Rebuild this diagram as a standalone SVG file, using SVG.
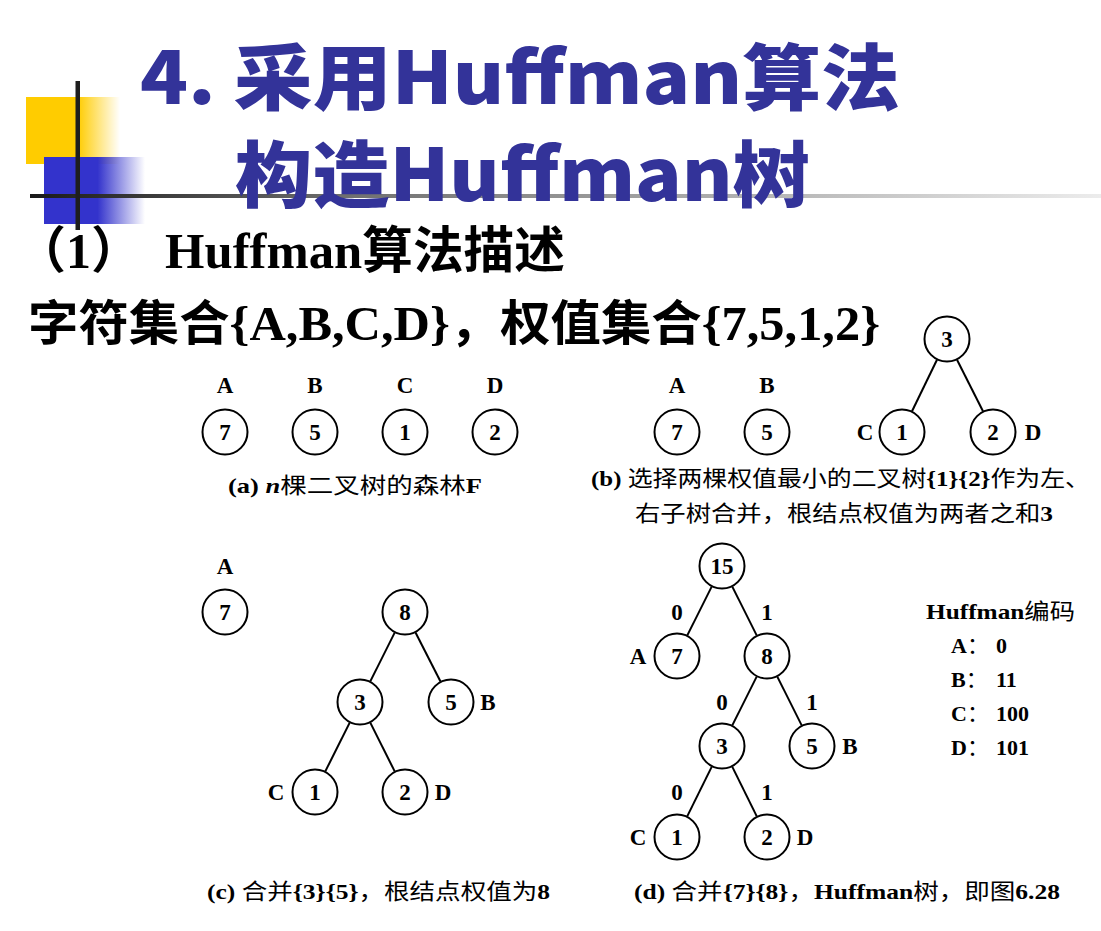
<svg xmlns="http://www.w3.org/2000/svg" width="1101" height="931" viewBox="0 0 1101 931">
<style>
.title{font-family:"Noto Sans CJK SC","Noto Sans",sans-serif;font-weight:900;fill:#333399;}
.big{font-family:"Liberation Serif","Noto Sans CJK SC",serif;font-weight:700;fill:#000;}
.cap{font-family:"Liberation Serif","Noto Sans CJK SC",serif;font-weight:700;font-size:22px;fill:#000;}
.cj{font-family:"Noto Sans CJK SC",sans-serif;font-weight:400;}
.lbl{font-family:"Liberation Serif",serif;font-weight:700;font-size:22px;fill:#000;}
.num{font-family:"Liberation Serif",serif;font-weight:700;font-size:23px;fill:#000;text-anchor:middle;}
.node circle{fill:#fff;stroke:#000;stroke-width:2;}
.edges line{stroke:#000;stroke-width:2;}
</style>
<defs>
<linearGradient id="gy" x1="0" y1="0" x2="1" y2="0">
<stop offset="0" stop-color="#FFCC00"/><stop offset="0.55" stop-color="#FFCC00"/><stop offset="1" stop-color="#FFCC00" stop-opacity="0"/>
</linearGradient>
<linearGradient id="gb" x1="0" y1="0" x2="1" y2="0">
<stop offset="0" stop-color="#3333CC"/><stop offset="0.53" stop-color="#3333CC"/><stop offset="1" stop-color="#3333CC" stop-opacity="0"/>
</linearGradient>
<linearGradient id="gl" gradientUnits="userSpaceOnUse" x1="30" y1="0" x2="1101" y2="0">
<stop offset="0" stop-color="#1a1a1a"/><stop offset="0.3" stop-color="#707070"/><stop offset="1" stop-color="#ececec"/>
</linearGradient>
</defs>
<rect width="1101" height="931" fill="#fff"/>
<g id="decor">
<rect x="26" y="97" width="94" height="67" fill="url(#gy)"/>
<rect x="44" y="157" width="101" height="67" fill="url(#gb)"/>
<rect x="30" y="194" width="1071" height="4" fill="url(#gl)"/>
<rect x="75.5" y="81" width="4.5" height="149" fill="#1e1e1e"/>
</g>
<g id="title">
<text class="title" x="140" y="104" font-size="72" textLength="760" lengthAdjust="spacingAndGlyphs">4. 采用Huffman算法</text>
<text class="title" x="235" y="201" font-size="72" textLength="575" lengthAdjust="spacingAndGlyphs">构造Huffman树</text>
</g>
<g id="heading">
<text class="big" x="16" y="268" font-size="50">（1）</text>
<text class="big" x="165" y="268" font-size="50" textLength="400" lengthAdjust="spacingAndGlyphs">Huffman算法描述</text>
<text class="big" x="28" y="340" font-size="48" textLength="852" lengthAdjust="spacingAndGlyphs">字符集合{A,B,C,D}，权值集合{7,5,1,2}</text>
</g>
<g class="edges" id="connectors">
<line x1="937" y1="359.7" x2="912" y2="411.3"/>
<line x1="957" y1="359.7" x2="983" y2="411.3"/>
<line x1="394.7" y1="632.6" x2="370.3" y2="681.4"/>
<line x1="415.5" y1="632.5" x2="440.5" y2="681.5"/>
<line x1="349.7" y1="722.6" x2="325.3" y2="771.4"/>
<line x1="370.3" y1="722.6" x2="394.7" y2="771.4"/>
<line x1="711.7" y1="586.6" x2="687.3" y2="635.4"/>
<line x1="732.3" y1="586.6" x2="756.7" y2="635.4"/>
<line x1="756.7" y1="676.6" x2="732.3" y2="725.4"/>
<line x1="777.3" y1="676.6" x2="801.7" y2="725.4"/>
<line x1="711.8" y1="766.6" x2="687.2" y2="816.4"/>
<line x1="732.2" y1="766.6" x2="756.8" y2="816.4"/>
</g>
<!-- (a) -->
<g id="a-A" class="node"><text class="num" x="225" y="393">A</text><circle cx="225" cy="432" r="22.5"/><text class="num" x="225" y="440">7</text></g>
<g id="a-B" class="node"><text class="num" x="315" y="393">B</text><circle cx="315" cy="432" r="22.5"/><text class="num" x="315" y="440">5</text></g>
<g id="a-C" class="node"><text class="num" x="405" y="393">C</text><circle cx="405" cy="432" r="22.5"/><text class="num" x="405" y="440">1</text></g>
<g id="a-D" class="node"><text class="num" x="495" y="393">D</text><circle cx="495" cy="432" r="22.5"/><text class="num" x="495" y="440">2</text></g>
<text class="cap" x="228" y="493" textLength="254" lengthAdjust="spacingAndGlyphs">(a) <tspan font-style="italic">n</tspan><tspan class="cj">棵二叉树的森林</tspan>F</text>
<!-- (b) -->
<g id="b-A" class="node"><text class="num" x="677" y="393">A</text><circle cx="677" cy="432" r="22.5"/><text class="num" x="677" y="440">7</text></g>
<g id="b-B" class="node"><text class="num" x="767" y="393">B</text><circle cx="767" cy="432" r="22.5"/><text class="num" x="767" y="440">5</text></g>
<g id="b-3" class="node"><circle cx="947" cy="339" r="22.5"/><text class="num" x="947" y="347">3</text></g>
<g id="b-C" class="node"><circle cx="902" cy="432" r="22.5"/><text class="num" x="902" y="440">1</text><text class="num" x="865" y="440">C</text></g>
<g id="b-D" class="node"><circle cx="993" cy="432" r="22.5"/><text class="num" x="993" y="440">2</text><text class="num" x="1033" y="440">D</text></g>
<text class="cap" x="591" y="486" textLength="499" lengthAdjust="spacingAndGlyphs">(b) <tspan class="cj">选择两棵权值最小的二叉树</tspan>{1}{2}<tspan class="cj">作为左、</tspan></text>
<text class="cap" x="635" y="521" textLength="418" lengthAdjust="spacingAndGlyphs"><tspan class="cj">右子树合并，根结点权值为两者之和</tspan>3</text>
<!-- (c) -->
<g id="c-A" class="node"><text class="num" x="225" y="574">A</text><circle cx="225" cy="612" r="22.5"/><text class="num" x="225" y="620">7</text></g>
<g id="c-8" class="node"><circle cx="405" cy="612" r="22.5"/><text class="num" x="405" y="620">8</text></g>
<g id="c-3" class="node"><circle cx="360" cy="702" r="22.5"/><text class="num" x="360" y="710">3</text></g>
<g id="c-B" class="node"><circle cx="451" cy="702" r="22.5"/><text class="num" x="451" y="710">5</text><text class="num" x="488" y="710">B</text></g>
<g id="c-C" class="node"><circle cx="315" cy="792" r="22.5"/><text class="num" x="315" y="800">1</text><text class="num" x="276" y="800">C</text></g>
<g id="c-D" class="node"><circle cx="405" cy="792" r="22.5"/><text class="num" x="405" y="800">2</text><text class="num" x="443" y="800">D</text></g>
<text class="cap" x="207" y="899" textLength="343" lengthAdjust="spacingAndGlyphs">(c) <tspan class="cj">合并</tspan>{3}{5}<tspan class="cj">，根结点权值为</tspan>8</text>
<!-- (d) -->
<g id="d-15" class="node"><circle cx="722" cy="566" r="22.5"/><text class="num" x="722" y="574">15</text></g>
<g id="d-A" class="node"><circle cx="677" cy="656" r="22.5"/><text class="num" x="677" y="664">7</text><text class="num" x="638" y="664">A</text></g>
<g id="d-8" class="node"><circle cx="767" cy="656" r="22.5"/><text class="num" x="767" y="664">8</text></g>
<g id="d-3" class="node"><circle cx="722" cy="746" r="22.5"/><text class="num" x="722" y="754">3</text></g>
<g id="d-B" class="node"><circle cx="812" cy="746" r="22.5"/><text class="num" x="812" y="754">5</text><text class="num" x="850" y="754">B</text></g>
<g id="d-C" class="node"><circle cx="677" cy="837" r="22.5"/><text class="num" x="677" y="845">1</text><text class="num" x="638" y="845">C</text></g>
<g id="d-D" class="node"><circle cx="767" cy="837" r="22.5"/><text class="num" x="767" y="845">2</text><text class="num" x="805" y="845">D</text></g>
<g id="edge-labels">
<text class="num" x="677" y="620">0</text>
<text class="num" x="767" y="620">1</text>
<text class="num" x="722" y="710">0</text>
<text class="num" x="812" y="710">1</text>
<text class="num" x="677" y="800">0</text>
<text class="num" x="767" y="800">1</text>
</g>
<text class="cap" x="634" y="899" textLength="426" lengthAdjust="spacingAndGlyphs">(d) <tspan class="cj">合并</tspan>{7}{8}<tspan class="cj">，</tspan>Huffman<tspan class="cj">树，即图</tspan>6.28</text>
<g id="codes">
<text class="cap" x="926" y="619" textLength="149" lengthAdjust="spacingAndGlyphs">Huffman<tspan class="cj">编码</tspan></text>
<text class="lbl" x="951" y="653">A<tspan class="cj">：</tspan></text><text class="lbl" x="996" y="653">0</text>
<text class="lbl" x="951" y="687">B<tspan class="cj">：</tspan></text><text class="lbl" x="996" y="687">11</text>
<text class="lbl" x="951" y="721">C<tspan class="cj">：</tspan></text><text class="lbl" x="996" y="721">100</text>
<text class="lbl" x="951" y="755">D<tspan class="cj">：</tspan></text><text class="lbl" x="996" y="755">101</text>
</g>
</svg>
